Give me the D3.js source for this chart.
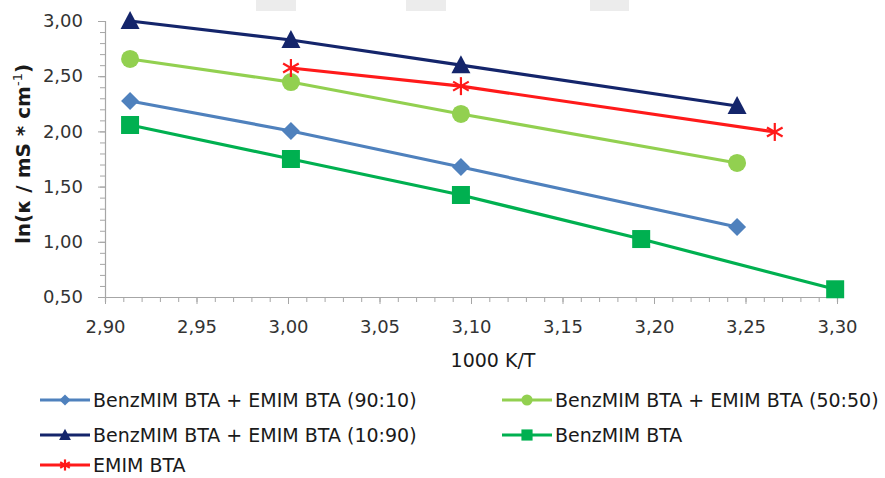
<!DOCTYPE html>
<html><head><meta charset="utf-8">
<script src="https://cdn.jsdelivr.net/npm/d3@7"></script>
<style>body{margin:0;background:#fff}svg{display:block}text{font-family:"DejaVu Sans",sans-serif}</style>
</head><body><svg id="c" width="885" height="478"></svg>
<script>
const seriesNames = ["BenzMIM BTA + EMIM BTA (90:10)","BenzMIM BTA + EMIM BTA (50:50)","BenzMIM BTA + EMIM BTA (10:90)","BenzMIM BTA","EMIM BTA"];
const x9010 = [2.9137,3.0016,3.0945,3.2454];
const y9010 = [2.275,2.004,1.677,1.134];
const x5050 = [2.9137,3.0016,3.0945,3.2454];
const y5050 = [2.656,2.447,2.158,1.714];
const x1090 = [2.9137,3.0016,3.0945,3.2454];
const y1090 = [3.00,2.828,2.600,2.230];
const xBenz = [2.9137,3.0016,3.0945,3.193,3.299];
const yBenz = [2.058,1.750,1.424,1.025,0.57];
const xEmim = [3.0016,3.0945,3.266];
const yEmim = [2.574,2.410,1.995];
const xTicks = [2.90,2.95,3.00,3.05,3.10,3.15,3.20,3.25,3.30];
const yTicks = [0.5,1.0,1.5,2.0,2.5,3.0];
const xTitle = "1000 K/T";

const colors = ["#4f81bd","#92d050","#14256b","#00b050","#ff1a1a"];
const shapes = ["diamond","circle","triangle","square","asterisk"];
const xs=[x9010,x5050,x1090,xBenz,xEmim], ys=[y9010,y5050,y1090,yBenz,yEmim];

const svg=d3.select("#c");
// faint background artifacts
[[256,0,40,11],[406,0,40,11],[590,0,39,11]].forEach(r=>svg.append("rect").attr("x",r[0]).attr("y",r[1]).attr("width",r[2]).attr("height",r[3]).attr("fill","#ececec"));

const x=d3.scaleLinear().domain([2.90,3.30]).range([105,837]);
const y=d3.scaleLinear().domain([0.5,3.0]).range([297,21]);
const fmt=d=>d3.format(".2f")(d).replace(".",",");
const axisCol="#a6a6a6";

// x axis
const gx=svg.append("g").attr("transform","translate(0,297)");
gx.call(d3.axisBottom(x).tickValues(d3.range(0,41).map(i=>2.9+i*0.01)).tickSize(5).tickFormat(""));
gx.select(".domain").attr("stroke",axisCol).attr("stroke-width",1.2);
gx.selectAll(".tick line").attr("stroke",axisCol);
const gx2=svg.append("g").attr("transform","translate(0,297)");
gx2.call(d3.axisBottom(x).tickValues(xTicks).tickSize(7).tickFormat(fmt));
gx2.select(".domain").remove();
gx2.selectAll(".tick line").attr("stroke",axisCol);
gx2.selectAll(".tick text").attr("font-size",18).attr("font-family","DejaVu Sans").attr("fill","#333").attr("y",30).attr("dy","0.35em");

// y axis
const gy=svg.append("g").attr("transform","translate(105,0)");
gy.call(d3.axisLeft(y).tickValues(d3.range(0,26).map(i=>0.5+i*0.1)).tickSize(5).tickFormat(""));
gy.select(".domain").attr("stroke",axisCol).attr("stroke-width",1.2);
gy.selectAll(".tick line").attr("stroke",axisCol);
const gy2=svg.append("g").attr("transform","translate(105,0)");
gy2.call(d3.axisLeft(y).tickValues(yTicks).tickSize(7).tickFormat(fmt));
gy2.select(".domain").remove();
gy2.selectAll(".tick line").attr("stroke",axisCol);
gy2.selectAll(".tick text").attr("font-size",18).attr("font-family","DejaVu Sans").attr("fill","#333").attr("x",-22);

// titles
svg.append("text").attr("x",493).attr("y",360).attr("dy","0.35em").attr("text-anchor","middle").attr("font-size",19).attr("fill","#1a1a1a").text(xTitle);
const yt=svg.append("text").attr("transform","translate(30,154) rotate(-90)").attr("text-anchor","middle").attr("font-size",20).attr("font-weight",700).attr("fill","#1a1a1a");
yt.append("tspan").text("ln(κ / mS * cm");
yt.append("tspan").attr("font-size",13).attr("font-weight",400).attr("dy",-8).text("-1");
yt.append("tspan").attr("dy",8).text(")");

function marker(g,shape,color,cx,cy,s){
  s=s||1;
  if(shape==="diamond") g.append("path").attr("d",`M${cx},${cy-9*s}L${cx+9*s},${cy}L${cx},${cy+9*s}L${cx-9*s},${cy}Z`).attr("fill",color);
  else if(shape==="circle") g.append("circle").attr("cx",cx).attr("cy",cy).attr("r",9*s).attr("fill",color);
  else if(shape==="triangle") g.append("path").attr("d",`M${cx},${cy-10*s}L${cx+9.5*s},${cy+8*s}L${cx-9.5*s},${cy+8*s}Z`).attr("fill",color);
  else if(shape==="square") g.append("rect").attr("x",cx-9*s).attr("y",cy-9*s).attr("width",18*s).attr("height",18*s).attr("fill",color);
  else if(shape==="asterisk"){
    const r=9*s;
    [[0,-r,0,r],[-r*0.87,-r*0.5,r*0.87,r*0.5],[-r*0.87,r*0.5,r*0.87,-r*0.5]].forEach(l=>g.append("line").attr("x1",cx+l[0]).attr("y1",cy+l[1]).attr("x2",cx+l[2]).attr("y2",cy+l[3]).attr("stroke",color).attr("stroke-width",2.2));
  }
}

const line=d3.line().x(d=>x(d[0])).y(d=>y(d[1]));
const order=[3,0,1,4,2];
order.forEach(i=>{
  const pts=xs[i].map((v,j)=>[v,ys[i][j]]);
  const g=svg.append("g");
  g.append("path").attr("d",line(pts)).attr("fill","none").attr("stroke",colors[i]).attr("stroke-width",3.2);
  pts.forEach(p=>marker(g,shapes[i],colors[i],x(p[0]),y(p[1])));
});

// legend
const legPos=[[40,400],[502,400],[40,435],[502,435],[40,465]];
seriesNames.forEach((n,i)=>{
  const [lx,ly]=legPos[i];
  const g=svg.append("g");
  g.append("line").attr("x1",lx).attr("x2",lx+50).attr("y1",ly).attr("y2",ly).attr("stroke",colors[i]).attr("stroke-width",3.2);
  marker(g,shapes[i],colors[i],lx+25,ly,0.62);
  g.append("text").attr("x",lx+53).attr("y",ly).attr("dy","0.36em").attr("font-size",19).attr("fill","#1a1a1a").text(n);
});
</script></body></html>
